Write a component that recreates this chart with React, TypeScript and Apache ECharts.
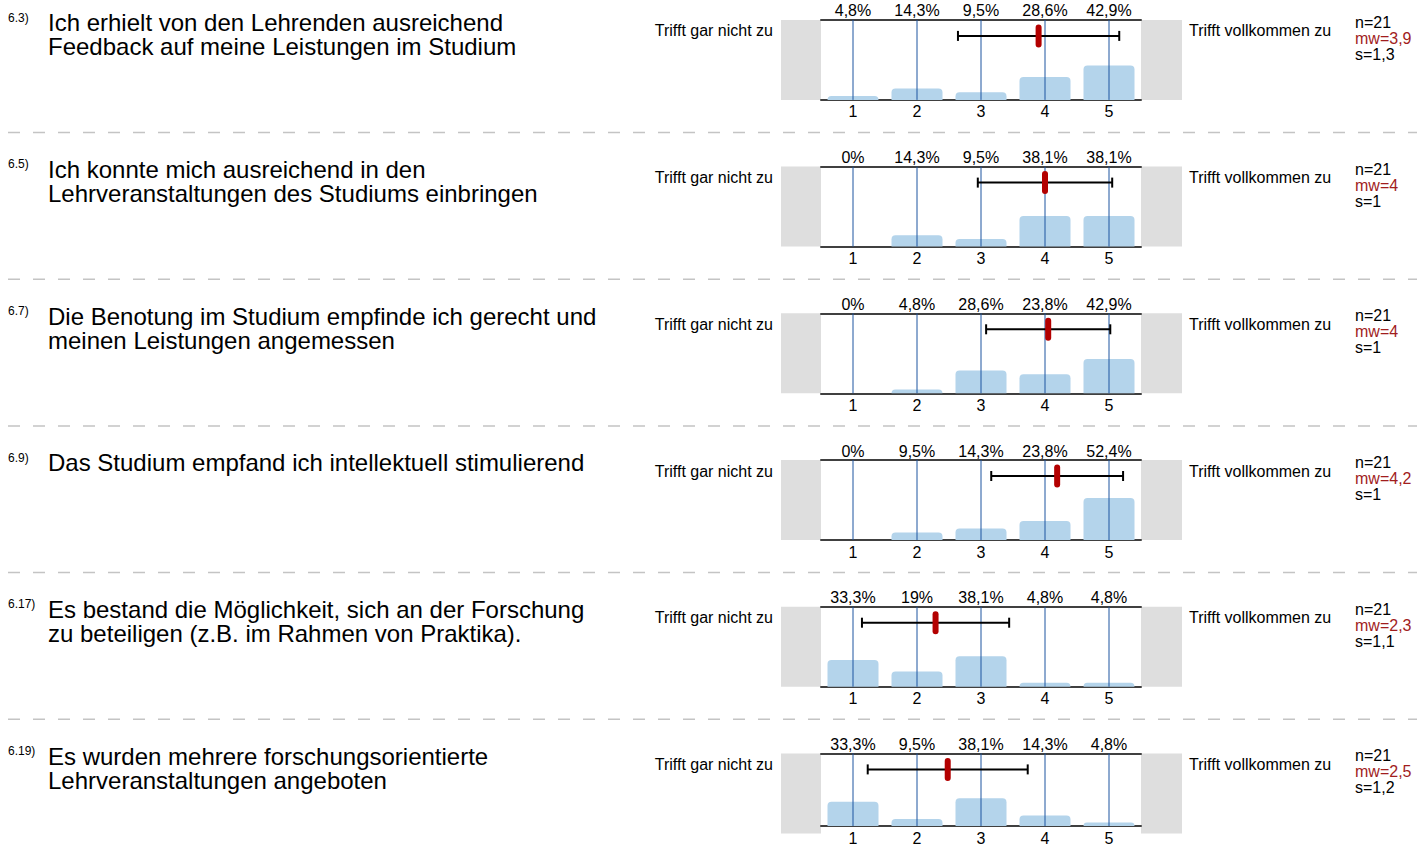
import React, { useEffect, useRef } from "react";
import * as echarts from "echarts";

// ---- data ----
const questionNumbers = ["6.3)", "6.5)", "6.7)", "6.9)", "6.17)", "6.19)"];
const questionTexts = [
  "Ich erhielt von den Lehrenden ausreichend\nFeedback auf meine Leistungen im Studium",
  "Ich konnte mich ausreichend in den\nLehrveranstaltungen des Studiums einbringen",
  "Die Benotung im Studium empfinde ich gerecht und\nmeinen Leistungen angemessen",
  "Das Studium empfand ich intellektuell stimulierend",
  "Es bestand die Möglichkeit, sich an der Forschung\nzu beteiligen (z.B. im Rahmen von Praktika).",
  "Es wurden mehrere forschungsorientierte\nLehrveranstaltungen angeboten",
];
const scaleCategories = ["1", "2", "3", "4", "5"];
const percentValues = [
  [4.8, 14.3, 9.5, 28.6, 42.9],
  [0, 14.3, 9.5, 38.1, 38.1],
  [0, 4.8, 28.6, 23.8, 42.9],
  [0, 9.5, 14.3, 23.8, 52.4],
  [33.3, 19, 38.1, 4.8, 4.8],
  [33.3, 9.5, 38.1, 14.3, 4.8],
];
const means = [3.9, 4.0, 4.05, 4.19, 2.29, 2.48];
const stdDevs = [1.26, 1.05, 0.97, 1.03, 1.15, 1.25];
const nValues = [21, 21, 21, 21, 21, 21];
const meanLabels = ["3,9", "4", "4", "4,2", "2,3", "2,5"];
const sdLabels = ["1,3", "1", "1", "1", "1,1", "1,2"];
const leftAnchor = "Trifft gar nicht zu";
const rightAnchor = "Trifft vollkommen zu";

// ---- layout / style ----
const FONT = "'Liberation Sans', Arial, Helvetica, sans-serif";
const PANEL_STEP = 146.7;
const PLOT_TOP = 19.9;
const PLOT_H = 80;
const PLOT_LEFT = 821;
const PLOT_W = 320;
const GUIDE_COLOR = "#1d55a0";

const fmtPct = (v: number) => String(v).replace(".", ",") + "%";

export default function App() {
  const ref = useRef<HTMLDivElement>(null);

  useEffect(() => {
    if (!ref.current) return;
    const chart = echarts.init(ref.current, undefined, { renderer: "svg" });

    const grids: any[] = [];
    const xAxes: any[] = [];
    const yAxes: any[] = [];
    const series: any[] = [];
    const graphics: any[] = [];

    percentValues.forEach((vals, k) => {
      const base = k * PANEL_STEP;
      const top = PLOT_TOP + base;
      grids.push({ left: PLOT_LEFT, top, width: PLOT_W, height: PLOT_H, containLabel: false });
      xAxes.push({
        type: "category",
        gridIndex: k,
        position: "bottom",
        data: scaleCategories,
        axisLine: { show: true, lineStyle: { color: "#404040", width: 2 } },
        axisTick: { show: false },
        axisLabel: { color: "#000", fontSize: 16, fontFamily: FONT, margin: 4 },
        splitLine: { show: false },
      });
      xAxes.push({
        type: "category",
        gridIndex: k,
        position: "top",
        data: vals.map(fmtPct),
        axisLine: { show: true, lineStyle: { color: "#404040", width: 2 } },
        axisTick: { show: false },
        axisLabel: { color: "#000", fontSize: 16, fontFamily: FONT, margin: 1 },
        splitLine: { show: false },
      });
      xAxes.push({
        type: "value",
        gridIndex: k,
        min: 0.5,
        max: 5.5,
        show: false,
      });
      yAxes.push({ type: "value", gridIndex: k, min: 0, max: 100, show: false });

      series.push({
        type: "bar",
        xAxisIndex: 3 * k,
        yAxisIndex: k,
        data: vals,
        barWidth: 51,
        itemStyle: { color: "#b4d4eb", borderRadius: [4, 4, 0, 0] },
        z: 2,
      });
      // vertical guide lines at each scale point
      series.push({
        type: "custom",
        xAxisIndex: 3 * k + 2,
        yAxisIndex: k,
        z: 5,
        silent: true,
        data: scaleCategories.map((c) => Number(c)),
        renderItem: (params: any, api: any) => {
          const v = api.value(0);
          const p0 = api.coord([v, 0]);
          const p1 = api.coord([v, 100]);
          return {
            type: "line",
            shape: { x1: p0[0], y1: p0[1], x2: p1[0], y2: p1[1] },
            style: { stroke: GUIDE_COLOR, lineWidth: 1 },
          };
        },
      });
      series.push({
        type: "custom",
        xAxisIndex: 3 * k + 2,
        yAxisIndex: k,
        z: 6,
        silent: true,
        data: [[means[k], stdDevs[k]]],
        renderItem: (params: any, api: any) => {
          const m = api.value(0);
          const s = api.value(1);
          const l = api.coord([m - s, 100]);
          const r = api.coord([m + s, 100]);
          const c = api.coord([m, 100]);
          const y = l[1] + 16;
          const stroke = { stroke: "#000", lineWidth: 2 };
          return {
            type: "group",
            children: [
              { type: "line", shape: { x1: l[0], y1: y, x2: r[0], y2: y }, style: stroke },
              { type: "line", shape: { x1: l[0], y1: y - 5, x2: l[0], y2: y + 5 }, style: stroke },
              { type: "line", shape: { x1: r[0], y1: y - 5, x2: r[0], y2: y + 5 }, style: stroke },
              {
                type: "rect",
                shape: { x: c[0] - 3, y: y - 11.5, width: 6, height: 23, r: 3 },
                style: { fill: "#b30000" },
              },
            ],
          };
        },
      });

      // grey side boxes
      graphics.push({
        type: "rect",
        shape: { x: 781, y: top, width: PLOT_LEFT - 781, height: PLOT_H },
        style: { fill: "#dedede" },
        z: 0,
      });
      graphics.push({
        type: "rect",
        shape: { x: PLOT_LEFT + PLOT_W, y: top, width: 1182 - (PLOT_LEFT + PLOT_W), height: PLOT_H },
        style: { fill: "#dedede" },
        z: 0,
      });
      // question number & text
      graphics.push({
        type: "text",
        x: 8,
        y: 17.5 + base,
        style: { text: questionNumbers[k], fontSize: 12, fontFamily: FONT, fill: "#000", verticalAlign: "middle" },
      });
      graphics.push({
        type: "text",
        x: 48,
        y: 10.7 + base,
        style: {
          text: questionTexts[k],
          fontSize: 24,
          lineHeight: 24,
          fontFamily: FONT,
          fill: "#000",
          verticalAlign: "top",
        },
      });
      // anchors
      graphics.push({
        type: "text",
        x: 773,
        y: top + 11,
        style: { text: leftAnchor, fontSize: 16, fontFamily: FONT, fill: "#000", align: "right", verticalAlign: "middle" },
      });
      graphics.push({
        type: "text",
        x: 1189,
        y: top + 11,
        style: { text: rightAnchor, fontSize: 16, fontFamily: FONT, fill: "#000", align: "left", verticalAlign: "middle" },
      });
      // stats
      graphics.push({
        type: "text",
        x: 1355,
        y: top + 2.5,
        style: { text: "n=" + nValues[k], fontSize: 16, fontFamily: FONT, fill: "#000", verticalAlign: "middle" },
      });
      graphics.push({
        type: "text",
        x: 1355,
        y: top + 18.5,
        style: { text: "mw=" + meanLabels[k], fontSize: 16, fontFamily: FONT, fill: "#a11d1d", verticalAlign: "middle" },
      });
      graphics.push({
        type: "text",
        x: 1355,
        y: top + 34.5,
        style: { text: "s=" + sdLabels[k], fontSize: 16, fontFamily: FONT, fill: "#000", verticalAlign: "middle" },
      });
      // separator
      if (k < percentValues.length - 1) {
        graphics.push({
          type: "line",
          shape: { x1: 8, y1: 132.5 + base, x2: 1417, y2: 132.5 + base },
          style: { stroke: "#c4c4c4", lineWidth: 1.5, lineDash: [12, 13] },
        });
      }
    });

    chart.setOption({
      animation: false,
      backgroundColor: "#fff",
      textStyle: { fontFamily: FONT },
      grid: grids,
      xAxis: xAxes,
      yAxis: yAxes,
      series,
      graphic: { elements: graphics },
    });

    return () => chart.dispose();
  }, []);

  return (
    <div
      ref={ref}
      style={{ position: "absolute", left: 0, top: 0, width: 1417, height: 846 }}
    />
  );
}
